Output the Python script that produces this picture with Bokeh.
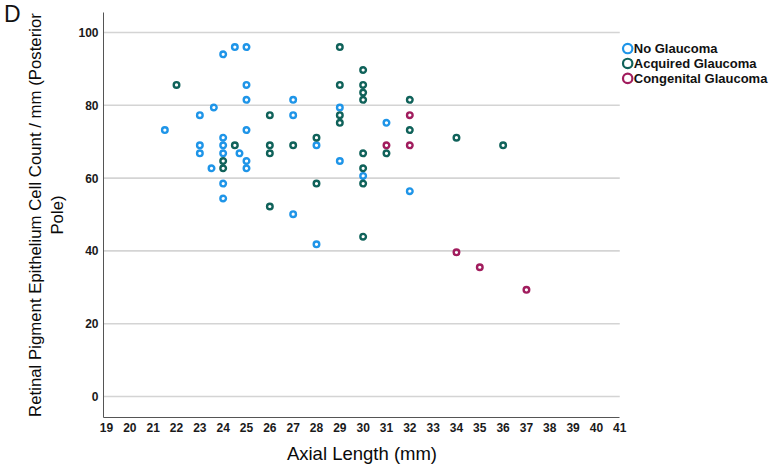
from bokeh.plotting import figure
from bokeh.models import FixedTicker, Range1d, LinearAxis
from bokeh.core.properties import value
from bokeh.embed import file_html
from bokeh.resources import INLINE

# ---------------- data ----------------
categories = ["No Glaucoma", "Acquired Glaucoma", "Congenital Glaucoma"]
colors = ["#1f95e8", "#10625a", "#a11d5e"]

no_glaucoma_x = [21.5, 23, 23, 23, 23.6, 23.5, 24, 24, 24, 24, 24, 24, 24.5, 24.7, 25, 25, 25, 25,
                 25, 25, 27, 27, 27, 28, 28, 29, 29, 30, 31, 32]
no_glaucoma_y = [73.2, 77.3, 69.0, 66.8, 79.4, 62.7, 94.0, 71.1, 69.0, 66.8, 58.5, 54.4, 96.0, 66.8,
                 96.0, 85.6, 81.5, 73.2, 64.7, 62.7, 81.5, 77.3, 50.1, 69.0, 41.8, 79.4, 64.7, 60.6,
                 75.2, 56.4]

acquired_x = [22, 24, 24, 24.5, 26, 26, 26, 26, 27, 28, 28, 29, 29, 29, 29, 30, 30, 30, 30, 30, 30,
              30, 30, 31, 32, 32, 34, 36]
acquired_y = [85.6, 64.7, 62.7, 69.0, 77.3, 69.0, 66.8, 52.2, 69.0, 71.1, 58.5, 96.0, 85.6, 77.3,
              75.2, 89.7, 85.6, 83.5, 81.5, 66.8, 62.7, 58.5, 43.9, 66.8, 81.5, 73.2, 71.1, 69.0]

congenital_x = [31, 32, 32, 34, 35, 37]
congenital_y = [69.0, 77.3, 69.0, 39.6, 35.5, 29.3]

x_ticks = list(range(19, 42))
y_ticks = [0, 20, 40, 60, 80, 100]

x_title = "Axial Length (mm)"
y_title = "Retinal Pigment Epithelium Cell Count / mm (Posterior\nPole)"
panel_letter = "D"

# ---------------- layout constants ----------------
X_START, X_AXIS_END, X_END = 18.87, 41.0, 47.59
Y_START, Y_END = -5.77, 105.5
FONT = "Liberation Sans"

p = figure(width=773, height=468, output_backend="svg", toolbar_location=None,
           x_range=Range1d(X_START, X_END), y_range=Range1d(Y_START, Y_END),
           min_border_left=103, min_border_right=0, min_border_top=12, min_border_bottom=51)
p.outline_line_color = None
p.xgrid.visible = False
p.ygrid.visible = False


def plain_axis(ax, size, standoff, style="normal"):
    ax.axis_line_color = None
    ax.major_tick_line_color = None
    ax.minor_tick_line_color = None
    ax.major_tick_out = 0
    ax.major_tick_in = 0
    ax.minor_tick_out = 0
    ax.major_label_standoff = standoff
    ax.major_label_text_font = FONT
    ax.major_label_text_font_size = size
    ax.major_label_text_font_style = style
    ax.major_label_text_color = "#111111"


# axes
p.xaxis.ticker = FixedTicker(ticks=x_ticks)
p.xaxis.bounds = (X_START, X_AXIS_END)
p.yaxis.ticker = FixedTicker(ticks=y_ticks)
for ax in (p.xaxis, p.yaxis):
    plain_axis(ax, "12px", 5, "bold")
    ax.axis_line_color = "#555555"
    ax.axis_line_width = 1
    ax.major_label_text_color = "#1a1a1a"
    ax.axis_label_text_font = FONT
    ax.axis_label_text_font_style = "normal"
    ax.axis_label_text_color = "#0a0a0a"

p.yaxis.axis_label = y_title
p.yaxis.axis_label_text_font_size = "16.8px"
p.yaxis.axis_label_standoff = 8

# x title: centred under the 19-41 axis extent (the frame also holds the legend)
X_TITLE_POS = 29.95
title_axis = LinearAxis(ticker=FixedTicker(ticks=[X_TITLE_POS]),
                        major_label_overrides={X_TITLE_POS: x_title})
plain_axis(title_axis, "18.5px", 8)
title_axis.major_label_text_color = "#0a0a0a"
p.add_layout(title_axis, "below")

# panel letter, shown as the only label of an extra, line-less left axis
D_POS = 105.0
letter_axis = LinearAxis(ticker=FixedTicker(ticks=[D_POS]),
                         major_label_overrides={D_POS: panel_letter})
plain_axis(letter_axis, "23px", 2)
p.add_layout(letter_axis, "left")

# horizontal gridlines, limited to the axis extent
n = len(y_ticks)
p.segment(x0=[X_START] * n, y0=y_ticks, x1=[X_AXIS_END] * n, y1=y_ticks,
          line_color="#d4d4d4", line_width=1.6)

# points
series = [(no_glaucoma_x, no_glaucoma_y), (acquired_x, acquired_y), (congenital_x, congenital_y)]
for (xs, ys), c in zip(series, colors):
    p.scatter(xs, ys, marker="circle", size=5.6, fill_color=None,
              line_color=c, line_width=2.4)

# legend (drawn in the free area right of the axis)
LEG_X, LEG_TX = 41.34, 41.6
leg_y = [95.6, 91.5, 87.4]
p.scatter(x=[LEG_X] * 3, y=leg_y, marker="circle", size=9.4, fill_color=None,
          line_color=colors, line_width=2.2)
p.text(x=[LEG_TX] * 3, y=leg_y, text=categories, text_font=value(FONT),
       text_font_style="bold", text_font_size="13px", text_baseline="middle",
       text_align="left", text_color="#111111")

open("out.html", "w").write(file_html(p, INLINE))
